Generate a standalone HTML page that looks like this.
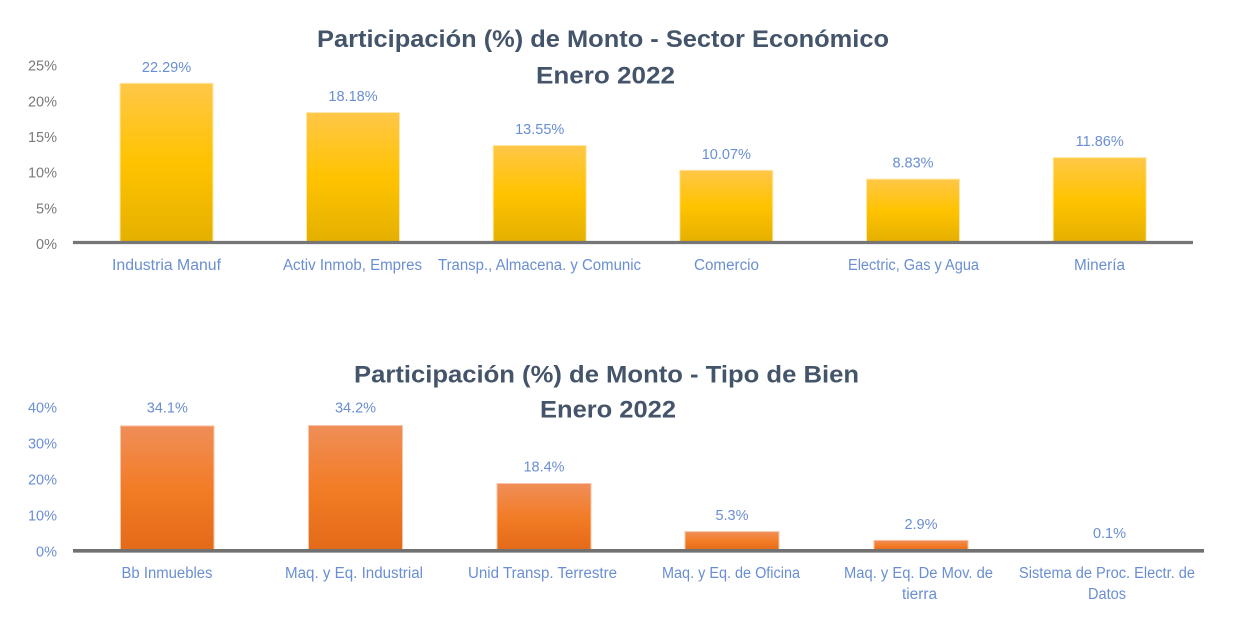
<!DOCTYPE html>
<html>
<head>
<meta charset="utf-8">
<style>
  html,body{margin:0;padding:0;background:#fff;}
  svg{display:block;}
  text{font-family:"Liberation Sans",sans-serif;}
</style>
</head>
<body>
<svg width="1240" height="630" viewBox="0 0 1240 630" xmlns="http://www.w3.org/2000/svg">
  <defs>
    <linearGradient id="gy" x1="0" y1="0" x2="0" y2="1">
      <stop offset="0" stop-color="#FFC748"/>
      <stop offset="0.5" stop-color="#FFC300"/>
      <stop offset="1" stop-color="#E4B000"/>
    </linearGradient>
    <linearGradient id="go" x1="0" y1="0" x2="0" y2="1">
      <stop offset="0" stop-color="#EF8E58"/>
      <stop offset="0.5" stop-color="#F37C26"/>
      <stop offset="1" stop-color="#E36A18"/>
    </linearGradient>
  </defs>
  <rect width="1240" height="630" fill="#fff"/>

  <!-- ===== TOP CHART ===== -->
  <g font-weight="bold" fill="#44546A" font-size="24">
    <text x="317" y="47" textLength="572" lengthAdjust="spacingAndGlyphs">Participación (%) de Monto - Sector Económico</text>
    <text x="536" y="83.5" textLength="139" lengthAdjust="spacingAndGlyphs">Enero 2022</text>
  </g>

  <!-- y labels -->
  <g font-size="14.5" fill="#7A7A7A" text-anchor="end">
    <text x="57" y="70.7">25%</text>
    <text x="57" y="106.4">20%</text>
    <text x="57" y="142">15%</text>
    <text x="57" y="177.7">10%</text>
    <text x="57" y="213.3">5%</text>
    <text x="57" y="249">0%</text>
  </g>

  <!-- bars -->
  <g fill="url(#gy)" stroke="#FFE7A6" stroke-width="1">
    <rect x="120" y="83.3" width="93" height="158.7"/>
    <rect x="306.5" y="112.6" width="93" height="129.4"/>
    <rect x="493.2" y="145.5" width="93" height="96.5"/>
    <rect x="679.8" y="170.3" width="93" height="71.7"/>
    <rect x="866.5" y="179.1" width="93" height="62.9"/>
    <rect x="1053.2" y="157.6" width="93" height="84.4"/>
  </g>
  <line x1="73" y1="242.5" x2="1193" y2="242.5" stroke="#767676" stroke-width="3.2"/>

  <!-- data labels -->
  <g font-size="14.5" fill="#6A8ED3" text-anchor="middle">
    <text x="166.5" y="71.8">22.29%</text>
    <text x="353" y="101.1">18.18%</text>
    <text x="539.7" y="134">13.55%</text>
    <text x="726.3" y="158.8">10.07%</text>
    <text x="913" y="167.6">8.83%</text>
    <text x="1099.7" y="146.1">11.86%</text>
  </g>

  <!-- category labels -->
  <g font-size="15.5" fill="#6A8ED3">
    <text x="112" y="270" textLength="109" lengthAdjust="spacingAndGlyphs">Industria Manuf</text>
    <text x="283" y="270" textLength="139" lengthAdjust="spacingAndGlyphs">Activ Inmob, Empres</text>
    <text x="438" y="270" textLength="203" lengthAdjust="spacingAndGlyphs">Transp., Almacena. y Comunic</text>
    <text x="694" y="270" textLength="65" lengthAdjust="spacingAndGlyphs">Comercio</text>
    <text x="848" y="270" textLength="131" lengthAdjust="spacingAndGlyphs">Electric, Gas y Agua</text>
    <text x="1074" y="270" textLength="51" lengthAdjust="spacingAndGlyphs">Minería</text>
  </g>

  <!-- ===== BOTTOM CHART ===== -->
  <g font-weight="bold" fill="#44546A" font-size="24">
    <text x="354" y="382.5" textLength="505" lengthAdjust="spacingAndGlyphs">Participación (%) de Monto - Tipo de Bien</text>
    <text x="540" y="417.5" textLength="136" lengthAdjust="spacingAndGlyphs">Enero 2022</text>
  </g>

  <!-- y labels -->
  <g font-size="14.5" fill="#6A8ED3" text-anchor="end">
    <text x="57" y="412.7">40%</text>
    <text x="57" y="448.7">30%</text>
    <text x="57" y="484.7">20%</text>
    <text x="57" y="520.7">10%</text>
    <text x="57" y="556.7">0%</text>
  </g>

  <!-- bars -->
  <g fill="url(#go)" stroke="#F8C6A6" stroke-width="1">
    <rect x="120.5" y="425.9" width="93.5" height="125.1"/>
    <rect x="308.5" y="425.5" width="94" height="125.5"/>
    <rect x="497" y="483.5" width="94" height="67.5"/>
    <rect x="685" y="531.6" width="94" height="19.4"/>
    <rect x="874" y="540.4" width="94" height="10.6"/>
    <rect x="1062" y="550.6" width="94" height="0.4"/>
  </g>
  <line x1="73" y1="550.8" x2="1204" y2="550.8" stroke="#717171" stroke-width="3.6"/>

  <!-- data labels -->
  <g font-size="14.5" fill="#6A8ED3" text-anchor="middle">
    <text x="167.3" y="412.7">34.1%</text>
    <text x="355.5" y="412.5">34.2%</text>
    <text x="544" y="471.7">18.4%</text>
    <text x="732" y="520">5.3%</text>
    <text x="921" y="528.8">2.9%</text>
    <text x="1109.5" y="538">0.1%</text>
  </g>

  <!-- category labels -->
  <g font-size="15.5" fill="#6A8ED3">
    <text x="121.5" y="578" textLength="91" lengthAdjust="spacingAndGlyphs">Bb Inmuebles</text>
    <text x="285" y="578" textLength="138" lengthAdjust="spacingAndGlyphs">Maq. y Eq. Industrial</text>
    <text x="468" y="578" textLength="149" lengthAdjust="spacingAndGlyphs">Unid Transp. Terrestre</text>
    <text x="662" y="578" textLength="138" lengthAdjust="spacingAndGlyphs">Maq. y Eq. de Oficina</text>
    <text x="844" y="578" textLength="149" lengthAdjust="spacingAndGlyphs">Maq. y Eq. De Mov. de</text>
    <text x="902" y="599" textLength="35" lengthAdjust="spacingAndGlyphs">tierra</text>
    <text x="1019" y="578" textLength="176" lengthAdjust="spacingAndGlyphs">Sistema de Proc. Electr. de</text>
    <text x="1088" y="599" textLength="38" lengthAdjust="spacingAndGlyphs">Datos</text>
  </g>
</svg>
</body>
</html>
